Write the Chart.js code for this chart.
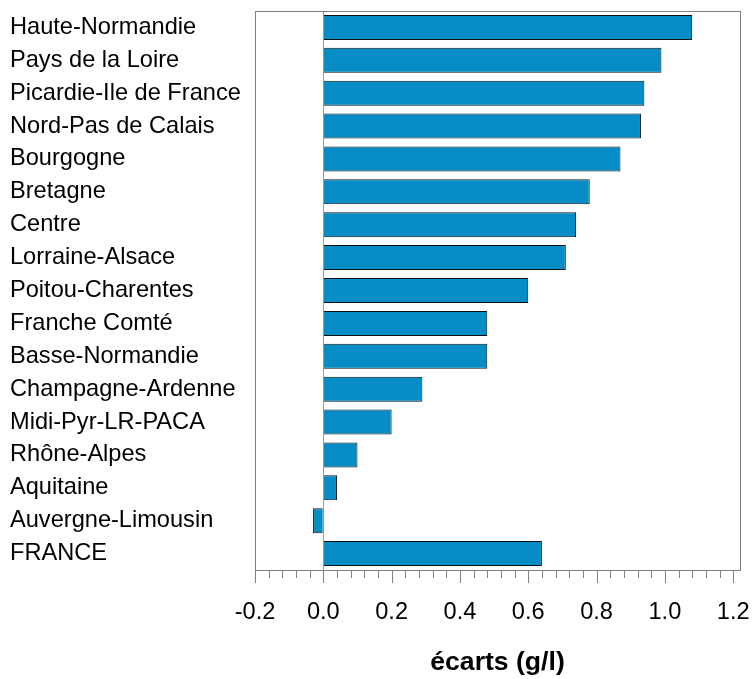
<!DOCTYPE html>
<html>
<head>
<meta charset="utf-8">
<script src="https://cdn.jsdelivr.net/npm/chart.js@4/dist/chart.umd.min.js"></script>
<style>
  html, body { margin: 0; padding: 0; background: #ffffff; }
  #wrap { width: 752px; height: 679px; position: relative; }
</style>
</head>
<body>
<div id="wrap"><canvas id="c" width="752" height="679"></canvas></div>
<script>
const categories = [
  'Haute-Normandie', 'Pays de la Loire', 'Picardie-Ile de France', 'Nord-Pas de Calais',
  'Bourgogne', 'Bretagne', 'Centre', 'Lorraine-Alsace', 'Poitou-Charentes',
  'Franche Comté', 'Basse-Normandie', 'Champagne-Ardenne', 'Midi-Pyr-LR-PACA',
  'Rhône-Alpes', 'Aquitaine', 'Auvergne-Limousin', 'FRANCE'
];
const ecarts = [1.08, 0.99, 0.94, 0.93, 0.87, 0.78, 0.74, 0.71, 0.60, 0.48, 0.48, 0.29, 0.20, 0.10, 0.04, -0.03, 0.64];
const xTickValues = [-0.2, 0.0, 0.2, 0.4, 0.6, 0.8, 1.0, 1.2];
const xTickLabels = ['-0.2', '0.0', '0.2', '0.4', '0.6', '0.8', '1.0', '1.2'];
const xAxisTitle = 'écarts (g/l)';
const xMin = -0.2, xMax = 1.22, xLastTick = 1.2, minorStep = 0.04;

const FONT = '"Liberation Sans", Arial, sans-serif';
const GRAY = '#808080';

function majorIndex(v) {
  for (let i = 0; i < xTickValues.length; i++) {
    if (Math.abs(xTickValues[i] - v) < 1e-6) return i;
  }
  return -1;
}

const framePlugin = {
  id: 'frame',
  afterDraw(chart) {
    const ctx = chart.ctx;
    const a = chart.chartArea;
    const xs = chart.scales.x;
    ctx.save();
    ctx.strokeStyle = GRAY;
    ctx.lineWidth = 1;
    ctx.strokeRect(Math.round(a.left) + 0.5, Math.round(a.top) + 0.5,
                   Math.round(a.right - a.left), Math.round(a.bottom - a.top));
    ctx.beginPath();
    xs.ticks.forEach(t => {
      const px = Math.round(xs.getPixelForValue(t.value)) + 0.5;
      const len = majorIndex(t.value) >= 0 ? 13 : 8;
      ctx.moveTo(px, Math.round(a.bottom));
      ctx.lineTo(px, Math.round(a.bottom) + len);
    });
    ctx.stroke();
    ctx.restore();
  }
};

new Chart(document.getElementById('c'), {
  type: 'bar',
  data: {
    labels: categories,
    datasets: [{
      data: ecarts,
      backgroundColor: '#078CC5',
      borderColor: '#111111',
      borderWidth: 1,
      barPercentage: 0.76,
      categoryPercentage: 1.0
    }]
  },
  options: {
    indexAxis: 'y',
    responsive: false,
    animation: false,
    layout: { padding: { left: 10, right: 12, top: 11, bottom: 0 } },
    plugins: { legend: { display: false }, tooltip: { enabled: false } },
    scales: {
      x: {
        type: 'linear',
        position: 'bottom',
        min: xMin,
        max: xMax,
        border: { display: false },
        grid: {
          drawTicks: false,
          drawOnChartArea: true,
          color: (c) => (c.tick && Math.abs(c.tick.value) < 1e-6) ? '#9a9a9a' : 'rgba(0,0,0,0)',
          lineWidth: 1
        },
        ticks: {
          stepSize: minorStep,
          autoSkip: false,
          maxRotation: 0,
          padding: 28,
          color: '#000000',
          font: { family: FONT, size: 23.6 },
          callback: (v) => { const i = majorIndex(v); return i >= 0 ? xTickLabels[i] : ''; }
        },
        afterBuildTicks: (s) => {
          const n = Math.round((xLastTick - xMin) / minorStep);
          const t = [];
          for (let k = 0; k <= n; k++) t.push({ value: Math.round((xMin + k * minorStep) * 1000) / 1000 });
          s.ticks = t;
        },
        afterFit: (s) => { s.height = 109; s.paddingLeft = 0; s.paddingRight = 0; },
        title: {
          display: true,
          text: xAxisTitle,
          color: '#000000',
          font: { family: FONT, size: 26.6, weight: 'bold' },
          padding: { top: 0, bottom: 0 }
        }
      },
      y: {
        type: 'category',
        position: 'left',
        border: { display: false },
        grid: { display: false },
        ticks: {
          crossAlign: 'far',
          padding: 10,
          color: '#000000',
          font: { family: FONT, size: 23.6 }
        },
        afterFit: (s) => { s.width = 245; s.paddingTop = 0; s.paddingBottom = 0; }
      }
    }
  },
  plugins: [framePlugin]
});
</script>
</body>
</html>
